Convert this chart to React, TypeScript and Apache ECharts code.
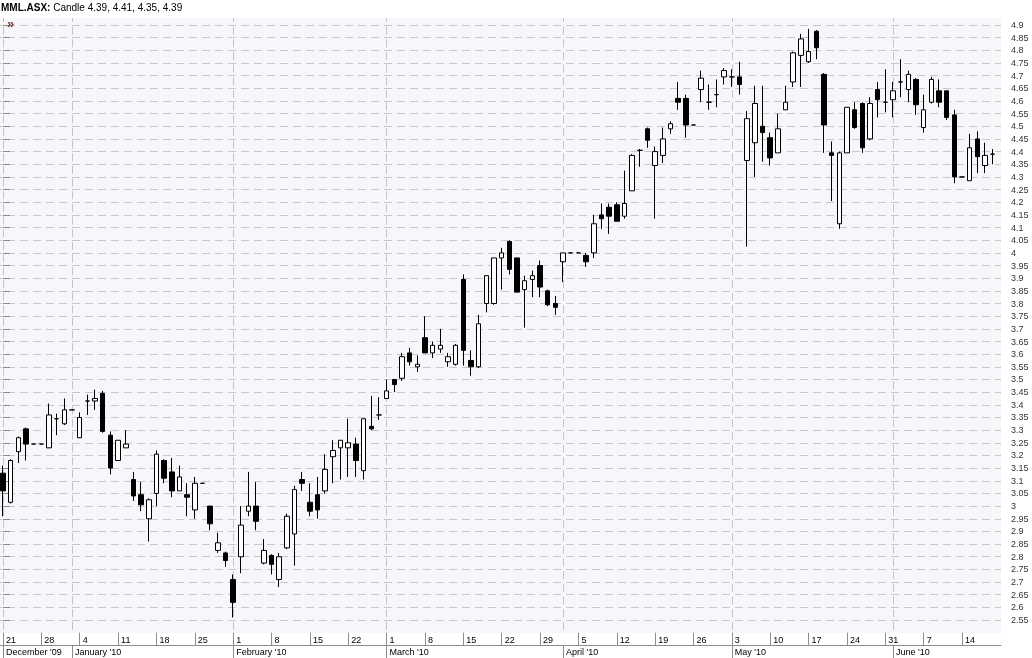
import React, { useEffect, useRef } from 'react';
import * as echarts from 'echarts';

// Trading-day index 0 = Monday 21 Dec 2009; one slot per weekday (holidays shown as flat ticks)
const opens = [
  3.13, 3.015, 3.215, 3.305, 3.245, 3.245, 3.23, 3.345, 3.325, 3.38,
  3.27, 3.415, 3.415, 3.445, 3.28, 3.18, 3.23, 3.105, 3.045, 2.95,
  3.05, 3.18, 3.135, 3.06, 3.045, 2.985, 3.09, 3.0, 2.825, 2.815,
  2.71, 2.8, 2.98, 3.0, 2.775, 2.805, 2.71, 2.835, 2.89, 3.105,
  3.015, 3.045, 3.06, 3.195, 3.23, 3.23, 3.245, 3.14, 3.315, 3.36,
  3.425, 3.5, 3.505, 3.605, 3.55, 3.665, 3.605, 3.62, 3.57, 3.56,
  3.895, 3.575, 3.55, 3.8, 3.8, 3.98, 4.045, 3.98, 3.855, 3.895,
  3.95, 3.85, 3.8, 3.965, 4.0, 4.0, 3.99, 4.0, 4.15, 4.18,
  4.19, 4.145, 4.245, 4.405, 4.49, 4.345, 4.385, 4.49, 4.61, 4.61,
  4.505, 4.645, 4.595, 4.625, 4.695, 4.695, 4.695, 4.365, 4.435, 4.5,
  4.455, 4.395, 4.565, 4.675, 4.78, 4.755, 4.875, 4.705, 4.395, 4.115,
  4.395, 4.565, 4.59, 4.45, 4.645, 4.595, 4.605, 4.675, 4.645, 4.685,
  4.495, 4.595, 4.64, 4.64, 4.545, 4.3, 4.285, 4.45, 4.345, 4.39,
];
const highs = [
  3.16, 3.185, 3.275, 3.31, 3.245, 3.245, 3.405, 3.365, 3.425, 3.38,
  3.37, 3.44, 3.46, 3.455, 3.295, 3.26, 3.3, 3.135, 3.095, 3.03,
  3.22, 3.185, 3.19, 3.16, 3.09, 3.115, 3.09, 3.0, 2.895, 2.82,
  2.73, 3.0, 3.135, 3.095, 2.87, 2.81, 2.815, 2.97, 3.08, 3.135,
  3.09, 3.115, 3.205, 3.26, 3.26, 3.345, 3.27, 3.345, 3.435, 3.43,
  3.5, 3.5, 3.605, 3.625, 3.595, 3.75, 3.65, 3.7, 3.605, 3.64,
  3.915, 3.615, 3.755, 3.91, 3.98, 4.02, 4.05, 3.98, 3.91, 3.93,
  3.97, 3.855, 3.83, 4.0, 4.0, 4.0, 4.0, 4.15, 4.195, 4.195,
  4.2, 4.325, 4.39, 4.41, 4.495, 4.42, 4.495, 4.52, 4.675, 4.625,
  4.505, 4.72, 4.665, 4.685, 4.73, 4.725, 4.755, 4.56, 4.66, 4.66,
  4.475, 4.55, 4.66, 4.795, 4.865, 4.885, 4.88, 4.71, 4.44, 4.4,
  4.575, 4.595, 4.595, 4.615, 4.675, 4.725, 4.675, 4.765, 4.72, 4.69,
  4.625, 4.695, 4.685, 4.64, 4.565, 4.3, 4.47, 4.48, 4.435, 4.41,
];
const lows = [
  2.96, 3.01, 3.17, 3.18, 3.245, 3.245, 3.23, 3.28, 3.32, 3.38,
  3.27, 3.36, 3.38, 3.29, 3.125, 3.18, 3.23, 3.02, 2.98, 2.86,
  3.0, 3.09, 3.035, 3.06, 2.96, 2.95, 3.09, 2.905, 2.815, 2.76,
  2.56, 2.735, 2.96, 2.905, 2.77, 2.73, 2.68, 2.83, 2.765, 3.06,
  2.96, 2.95, 3.05, 3.09, 3.105, 3.115, 3.115, 3.105, 3.3, 3.34,
  3.425, 3.45, 3.495, 3.555, 3.53, 3.605, 3.585, 3.605, 3.55, 3.555,
  3.555, 3.515, 3.545, 3.765, 3.795, 3.855, 3.915, 3.845, 3.705, 3.825,
  3.825, 3.79, 3.755, 3.885, 4.0, 4.0, 3.945, 3.98, 4.095, 4.075,
  4.125, 4.135, 4.245, 4.34, 4.415, 4.135, 4.355, 4.47, 4.565, 4.455,
  4.505, 4.595, 4.565, 4.575, 4.665, 4.655, 4.625, 4.025, 4.3, 4.36,
  4.345, 4.395, 4.565, 4.655, 4.655, 4.75, 4.765, 4.395, 4.205, 4.095,
  4.395, 4.49, 4.395, 4.445, 4.535, 4.555, 4.535, 4.615, 4.595, 4.545,
  4.475, 4.59, 4.575, 4.525, 4.275, 4.3, 4.285, 4.315, 4.315, 4.35,
];
const closes = [
  3.06, 3.18, 3.27, 3.245, 3.245, 3.245, 3.36, 3.345, 3.38, 3.38,
  3.35, 3.415, 3.425, 3.295, 3.15, 3.26, 3.245, 3.04, 3.005, 3.025,
  3.205, 3.11, 3.06, 3.115, 3.035, 3.09, 3.09, 2.93, 2.855, 2.785,
  2.62, 2.925, 3.0, 2.94, 2.825, 2.77, 2.8, 2.96, 3.065, 3.09,
  2.98, 2.985, 3.145, 3.22, 3.26, 3.25, 3.18, 3.345, 3.305, 3.36,
  3.455, 3.48, 3.59, 3.57, 3.56, 3.605, 3.635, 3.635, 3.59, 3.635,
  3.615, 3.55, 3.72, 3.91, 3.98, 4.0, 3.935, 3.845, 3.89, 3.91,
  3.865, 3.795, 3.785, 4.0, 4.0, 4.0, 3.965, 4.115, 4.135, 4.145,
  4.125, 4.195, 4.385, 4.405, 4.445, 4.4, 4.45, 4.51, 4.595, 4.505,
  4.505, 4.69, 4.595, 4.625, 4.72, 4.695, 4.665, 4.53, 4.59, 4.475,
  4.375, 4.49, 4.595, 4.79, 4.845, 4.795, 4.81, 4.505, 4.385, 4.395,
  4.575, 4.495, 4.415, 4.59, 4.605, 4.595, 4.64, 4.675, 4.705, 4.585,
  4.565, 4.685, 4.595, 4.535, 4.3, 4.3, 4.415, 4.38, 4.385, 4.39,
];

// Weekly ticks (Mondays) and month starts, by trading-day index
const weekTickIdx = [0, 5, 10, 15, 20, 25, 30, 35, 40, 45, 50, 55, 60, 65, 70, 75, 80, 85, 90, 95, 100, 105, 110, 115, 120, 125];
const weekTickLabels = ['21', '28', '4', '11', '18', '25', '1', '8', '15', '22', '1', '8', '15', '22', '29', '5', '12', '19', '26', '3', '10', '17', '24', '31', '7', '14'];
const monthTickIdx = [0, 9, 30, 50, 73, 95, 116];
const monthLabels = ["December '09", "January '10", "February '10", "March '10", "April '10", "May '10", "June '10"];
const priceTicks = [
  2.55, 2.6, 2.65, 2.7, 2.75, 2.8, 2.85, 2.9, 2.95, 3.0,
  3.05, 3.1, 3.15, 3.2, 3.25, 3.3, 3.35, 3.4, 3.45, 3.5,
  3.55, 3.6, 3.65, 3.7, 3.75, 3.8, 3.85, 3.9, 3.95, 4.0,
  4.05, 4.1, 4.15, 4.2, 4.25, 4.3, 4.35, 4.4, 4.45, 4.5,
  4.55, 4.6, 4.65, 4.7, 4.75, 4.8, 4.85, 4.9,
];

const FONT = '"Liberation Sans", Arial, sans-serif';

export default function App() {
  const ref = useRef<HTMLDivElement>(null);
  useEffect(() => {
    if (!ref.current) return;
    const chart = echarts.init(ref.current, undefined, { renderer: 'svg' });
    const candles = opens.map((o, i) => [i, o, closes[i], lows[i], highs[i]]);
    const weekLabelMap: Record<string, string> = {};
    weekTickIdx.forEach((v, k) => (weekLabelMap[String(v)] = weekTickLabels[k]));
    const monthLabelMap: Record<string, string> = {};
    monthTickIdx.forEach((v, k) => (monthLabelMap[String(v)] = monthLabels[k]));

    chart.setOption({
      animation: false,
      title: {
        text: '{b|MML.ASX:} Candle 4.39, 4.41, 4.35, 4.39',
        left: 1,
        top: 2,
        padding: 0,
        textStyle: {
          fontSize: 10,
          fontWeight: 'normal',
          color: '#000',
          fontFamily: FONT,
          rich: { b: { fontSize: 10, fontWeight: 'bold', color: '#000', fontFamily: FONT } },
        },
      },
      graphic: [
        { type: 'text', left: 7, top: 17, z: 100, style: { text: '»', fill: '#7a3434', font: 'bold 13px ' + FONT } },
      ],
      grid: {
        left: 0,
        right: 31,
        top: 18,
        bottom: 25.3,
        show: true,
        backgroundColor: '#f6f6fb',
        borderWidth: 0,
      },
      xAxis: [
        {
          type: 'value',
          min: -0.391,
          max: 130.08,
          position: 'bottom',
          axisLine: { show: false },
          axisTick: { show: true, customValues: weekTickIdx, length: 13, lineStyle: { color: '#8c8c8c' } },
          axisLabel: {
            customValues: weekTickIdx,
            formatter: (v: number) => weekLabelMap[String(Math.round(v))] ?? '',
            align: 'left',
            padding: [0, 0, 0, 3],
            margin: 3,
            fontSize: 9,
            color: '#000',
            fontFamily: FONT,
          },
          splitLine: { show: false },
        },
        {
          type: 'value',
          min: -0.391,
          max: 130.08,
          position: 'bottom',
          offset: 13,
          axisLine: { show: true, lineStyle: { color: '#8c8c8c' } },
          axisTick: { show: true, customValues: monthTickIdx, length: 13, lineStyle: { color: '#8c8c8c' } },
          axisLabel: {
            customValues: monthTickIdx,
            formatter: (v: number) => monthLabelMap[String(Math.round(v))] ?? '',
            align: 'left',
            padding: [0, 0, 0, 3],
            margin: 2,
            fontSize: 9,
            color: '#000',
            fontFamily: FONT,
          },
          splitLine: { show: true, lineStyle: { color: '#c4c4c4', width: 1, type: [8, 4.66], dashOffset: 4 } },
        },
      ],
      yAxis: {
        type: 'value',
        position: 'right',
        min: 2.5,
        max: 4.9276,
        axisLine: { show: false },
        axisTick: { show: true, customValues: priceTicks, length: 7, lineStyle: { color: '#8a8a8a' } },
        axisLabel: {
          customValues: priceTicks,
          formatter: (v: number) => String(Math.round(v * 100) / 100),
          margin: 10,
          fontSize: 9,
          color: '#333',
          fontFamily: FONT,
        },
        splitLine: { show: true, lineStyle: { color: '#c8c8c8', width: 1, type: [8, 5], dashOffset: 6 } },
      },
      series: [
        {
          type: 'candlestick',
          xAxisIndex: 0,
          yAxisIndex: 0,
          barWidth: 5,
          data: candles,
          encode: { x: 0, y: [1, 2, 3, 4] },
          itemStyle: {
            color: '#ffffff',
            color0: '#000000',
            borderColor: '#000000',
            borderColor0: '#000000',
            borderColorDoji: '#000000',
            borderWidth: 1,
          },
        },
      ],
    });
    return () => chart.dispose();
  }, []);
  return <div ref={ref} style={{ position: 'fixed', left: 0, top: 0, width: 1032, height: 658 }} />;
}
